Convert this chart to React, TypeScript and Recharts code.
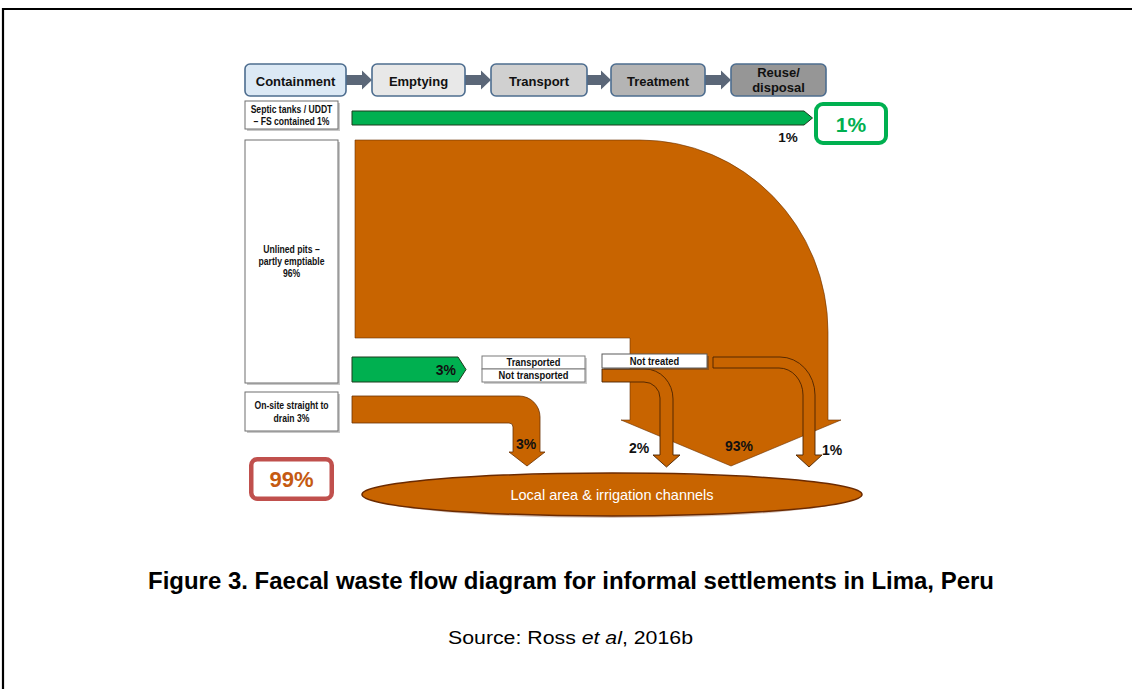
import React from 'react';
import { ComposedChart, XAxis, YAxis, ReferenceArea } from 'recharts';

// ---------- data ----------
const stages = ['Containment', 'Emptying', 'Transport', 'Treatment', 'Reuse/disposal'];
const containmentLabels = [
  ['Septic tanks / UDDT', '– FS contained 1%'],
  ['Unlined pits –', 'partly emptiable', '96%'],
  ['On-site straight to', 'drain 3%'],
];
const emptyingLabels = ['Transported', 'Not transported'];
const treatmentLabels = ['Not treated'];
const flowLabels = ['1%', '3%', '3%', '2%', '93%', '1%'];
const safeShare = '1%';
const unsafeShare = '99%';
const receivingLabel = 'Local area & irrigation channels';
const caption = 'Figure 3. Faecal waste flow diagram for informal settlements in Lima, Peru';
const sourceParts = ['Source: Ross ', 'et al', ', 2016b'];

// ---------- styles / layout ----------
const W = 1132;
const H = 689;
const SANS = "'Liberation Sans', Arial, sans-serif";
const ORANGE = '#c86400';
const GREEN = '#00b050';
const OUTLINE = '#4a2200';
const stageFills = ['#dce9f5', '#e8e8e8', '#d0d0d0', '#b4b4b4', '#969696'];
const stageX = [[245, 346], [372, 465], [491, 587], [611, 705], [731, 826]];
const stageY = [64, 96];

const area = (
  key: string, x1: number, x2: number, y1: number, y2: number, draw: () => React.ReactNode
) => (
  <ReferenceArea
    key={key}
    x1={x1}
    x2={x2}
    y1={y1}
    y2={y2}
    ifOverflow="visible"
    shape={(p: any) => {
      const sx = p.width / (x2 - x1);
      const sy = p.height / (y2 - y1);
      return (
        <g transform={`translate(${p.x - x1 * sx},${p.y - y1 * sy}) scale(${sx},${sy})`}>
          {draw()}
        </g>
      );
    }}
  />
);

// condensed bold text (emulates a narrow face)
const ctext = (t: string, x: number, y: number, size: number, k: number, key?: number, anchor: any = 'middle') => (
  <text key={key} transform={`translate(${x},${y}) scale(${k},1)`} x={0} y={0} textAnchor={anchor}
    dominantBaseline="central" fontFamily={SANS} fontWeight="bold" fontSize={size} fill="#111">
    {t}
  </text>
);

const labelBox = (x: number, y: number, w: number, h: number, lines: string[], size: number, lineGap: number) => (
  <g>
    <rect x={x + 2} y={y + 2} width={w} height={h} fill="#9a9a9a" opacity={0.55} />
    <rect x={x} y={y} width={w} height={h} fill="#fff" stroke="#6f6f6f" strokeWidth={1} />
    {lines.map((t, i) => ctext(t, x + w / 2, y + h / 2 + (i - (lines.length - 1) / 2) * lineGap, size, 0.82, i))}
  </g>
);

const pct = (t: string, x: number, y: number, size = 14) => (
  <text x={x} y={y} textAnchor="middle" dominantBaseline="central" fontFamily={SANS} fontWeight="bold" fontSize={size} fill="#111">
    {t}
  </text>
);

export default function App() {
  const pieces: React.ReactNode[] = [];

  // frame
  pieces.push(area('frame', 0, W, 0, H, () => (
    <path d={`M3,${H} V9 H${W}`} fill="none" stroke="#000" strokeWidth={2.2} />
  )));

  // stage connectors
  for (let i = 0; i < stages.length - 1; i++) {
    const a = stageX[i][1];
    const b = stageX[i + 1][0];
    pieces.push(area(`conn${i}`, a, b, 70, 90, () => (
      <path d={`M${a},75 H${b - 10} V70.5 L${b},80 L${b - 10},89.5 V85 H${a} Z`} fill="#5b6778" />
    )));
  }
  // stage boxes
  stages.forEach((s, i) => {
    const [x1, x2] = stageX[i];
    const [y1, y2] = stageY;
    const lines = s === 'Reuse/disposal' ? ['Reuse/', 'disposal'] : [s];
    pieces.push(area(`stage${i}`, x1, x2, y1, y2, () => (
      <g>
        <rect x={x1} y={y1} width={x2 - x1} height={y2 - y1} rx={5} fill={stageFills[i]} stroke="#4d6d8f" strokeWidth={1.6} />
        {lines.map((t, j) => (
          <text key={j} x={(x1 + x2) / 2} y={(y1 + y2) / 2 + (j - (lines.length - 1) / 2) * 15 + (lines.length > 1 ? 0 : 1)}
            textAnchor="middle" dominantBaseline="central" fontFamily={SANS} fontWeight="bold" fontSize={13} fill="#111">
            {t}
          </text>
        ))}
      </g>
    )));
  });

  // containment label boxes
  pieces.push(area('c0', 245, 338, 101, 129, () => labelBox(245, 101, 93, 28, containmentLabels[0], 10.5, 12.5)));
  pieces.push(area('c1', 245, 338, 140, 383, () => labelBox(245, 140, 93, 243, containmentLabels[1], 10.5, 12)));
  pieces.push(area('c2', 245, 338, 392, 431, () => labelBox(245, 392, 93, 39, containmentLabels[2], 10.5, 13)));

  // septic -> safe green arrow
  pieces.push(area('septic', 352, 813, 110, 126, () => (
    <path d="M352,111 H804 L812.5,118 L804,125 H352 Z" fill={GREEN} stroke="#1d3b1d" strokeWidth={1} />
  )));
  pieces.push(area('pct1', 775, 800, 130, 145, () => pct(flowLabels[0], 788, 137, 13.5)));

  // big orange flow (unlined pits, not emptied)
  pieces.push(area('big', 355, 841, 140, 466, () => (
    <path d="M355,140 H640 A188,192 0 0 1 828,332 V420 H841 L731,466 L621,420 H630 V338 H355 Z"
      fill={ORANGE} stroke="#6a3000" strokeWidth={0.6} />
  )));

  // 2% not treated arrow
  pieces.push(area('nt2', 602, 680, 369, 467, () => (
    <path d="M602,369 H645 A28,30 0 0 1 673,399 V455 H680 L666.5,467 L653,455 H660 V398 A16,16 0 0 0 644,382 H602 Z"
      fill={ORANGE} stroke={OUTLINE} strokeWidth={0.9} />
  )));
  // 1% not treated arrow
  pieces.push(area('nt1', 713, 822, 357, 467, () => (
    <path d="M713,357 H780 A35,38 0 0 1 815,395 V455 H822 L809,467 L796,455 H803 V395 A24,27 0 0 0 779,368 H713 Z"
      fill={ORANGE} stroke={OUTLINE} strokeWidth={0.9} />
  )));

  // emptied green arrow 3%
  pieces.push(area('empt', 352, 467, 357, 382, () => (
    <g>
      <path d="M352,357 H458 L466,369.5 L458,382 H352 Z" fill={GREEN} stroke="#1d3b1d" strokeWidth={1} />
      <text x={456} y={370} textAnchor="end" dominantBaseline="central" fontFamily={SANS} fontWeight="bold" fontSize={14} fill="#111">
        {flowLabels[1]}
      </text>
    </g>
  )));

  // transported / not transported
  pieces.push(area('tr', 482, 585, 356, 382, () => (
    <g>
      <rect x={484} y={358} width={103} height={26} fill="#9a9a9a" opacity={0.5} />
      {emptyingLabels.map((t, i) => (
        <g key={i}>
          <rect x={482} y={356 + i * 13} width={103} height={13} fill="#fff" stroke="#7a7a7a" strokeWidth={1} />
          {ctext(t, 533.5, 362.5 + i * 13, 11, 0.85)}
        </g>
      ))}
    </g>
  )));

  // not treated box
  pieces.push(area('ntbox', 602, 707, 354, 368, () => (
    <g>
      <rect x={604} y={356} width={105} height={14} fill="#5a3a20" opacity={0.5} />
      <rect x={602} y={354} width={105} height={14} fill="#fff" stroke="#5a5a5a" strokeWidth={1} />
      {ctext(treatmentLabels[0], 654.5, 361, 11, 0.85)}
    </g>
  )));

  // on-site drain arrow
  pieces.push(area('drain', 352, 545, 396, 466, () => (
    <path d="M352,396 H519 A21,21 0 0 1 540,417 V452 H545 L527,466 L509,452 H513 V427 A4,4 0 0 0 509,423 H352 Z"
      fill={ORANGE} stroke="#6a3000" strokeWidth={0.8} />
  )));

  // percentage labels
  pieces.push(area('p3', 512, 540, 436, 452, () => pct(flowLabels[2], 526, 444)));
  pieces.push(area('p2', 627, 652, 440, 456, () => pct(flowLabels[3], 639, 448)));
  pieces.push(area('p93', 722, 756, 438, 454, () => pct(flowLabels[4], 739, 446)));
  pieces.push(area('p1', 820, 845, 442, 458, () => pct(flowLabels[5], 832, 450)));

  // safe / unsafe boxes
  pieces.push(area('safe', 814, 888, 102, 145, () => (
    <g>
      <rect x={816} y={104} width={70} height={39} rx={7} fill="#fff" stroke={GREEN} strokeWidth={4} />
      <text x={851} y={124} textAnchor="middle" dominantBaseline="central" fontFamily={SANS} fontWeight="bold" fontSize={21} fill={GREEN}>
        {safeShare}
      </text>
    </g>
  )));
  pieces.push(area('unsafe', 249, 334, 457, 501, () => (
    <g>
      <rect x={251.25} y={459.25} width={80.5} height={39.5} rx={6} fill="#fff" stroke="#c0504d" strokeWidth={4.5} />
      <text x={291.5} y={479} textAnchor="middle" dominantBaseline="central" fontFamily={SANS} fontWeight="bold" fontSize={22} fill="#c55a11">
        {unsafeShare}
      </text>
    </g>
  )));

  // receiving environment ellipse
  pieces.push(area('env', 362, 862, 473, 516, () => (
    <g>
      <ellipse cx={612} cy={498} rx={235} ry={20} fill="#5a1a00" opacity={0.25} />
      <ellipse cx={612} cy={494.5} rx={250} ry={21.5} fill={ORANGE} stroke="#6b2a00" strokeWidth={1.5} />
      <text x={612} y={495} textAnchor="middle" dominantBaseline="central" fontFamily={SANS} fontSize={14.5} fill="#fff">
        {receivingLabel}
      </text>
    </g>
  )));

  // caption and source
  pieces.push(area('cap', 148, 994, 570, 594, () => (
    <text x={571} y={581} textAnchor="middle" dominantBaseline="central" fontFamily={SANS} fontWeight="bold" fontSize={23}
      fill="#000" textLength={846} lengthAdjust="spacingAndGlyphs">
      {caption}
    </text>
  )));
  pieces.push(area('src', 448, 693, 630, 646, () => (
    <text x={570.5} y={638} textAnchor="middle" dominantBaseline="central" fontFamily={SANS} fontSize={18}
      fill="#000" textLength={245} lengthAdjust="spacingAndGlyphs">
      <tspan>{sourceParts[0]}</tspan>
      <tspan fontStyle="italic">{sourceParts[1]}</tspan>
      <tspan>{sourceParts[2]}</tspan>
    </text>
  )));

  return (
    <div style={{ position: 'absolute', left: 0, top: 0, width: W, height: H, background: '#fff' }}>
      <ComposedChart width={W} height={H} margin={{ top: 0, right: 0, bottom: 0, left: 0 }}>
        <XAxis type="number" dataKey="x" domain={[0, W]} hide allowDataOverflow />
        <YAxis type="number" dataKey="y" domain={[0, H]} reversed hide allowDataOverflow />
        {pieces}
      </ComposedChart>
    </div>
  );
}
